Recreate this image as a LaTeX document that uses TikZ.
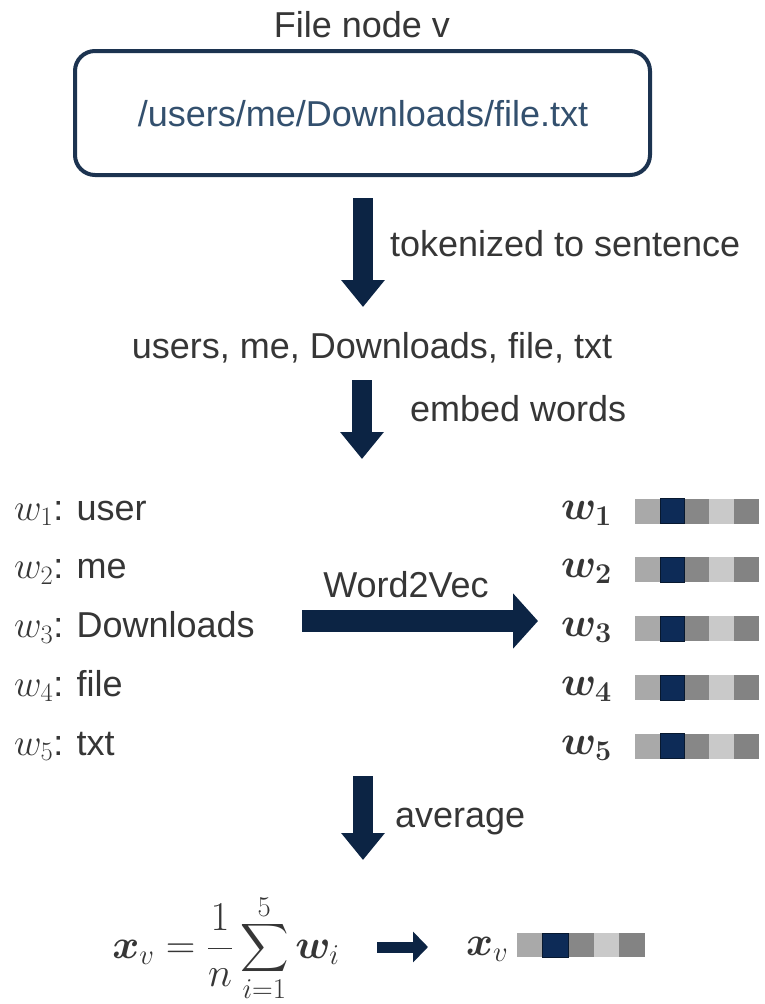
\RequirePackage{fix-cm}
\documentclass[tikz,border=0pt]{standalone}
\usepackage{amsmath}
\usepackage{bm}
\usepackage{fontspec}
\setmainfont{Liberation Sans}
\usetikzlibrary{arrows.meta}

\definecolor{navy}{HTML}{0C2444}
\definecolor{ink}{HTML}{363636}
\definecolor{pathblue}{HTML}{33506E}
\definecolor{boxline}{HTML}{1C3350}
\definecolor{cellA}{HTML}{A9A9A9}
\definecolor{cellN}{HTML}{0D2B57}
\definecolor{cellB}{HTML}{878787}
\definecolor{cellC}{HTML}{C9C9C9}
\definecolor{cellD}{HTML}{838383}

% five-cell embedding strip: left x, centre y, cell width, cell height
\newcommand{\embstrip}[4]{%
  \foreach \cc [count=\k from 0] in {cellA,cellN,cellB,cellC,cellD}{%
    \fill[\cc] ({#1+\k*#3},{#2-#4/2}) rectangle ++(#3,#4);
  }%
  \draw[navy!70!black, line width=0.5pt] ({#1+#3},{#2-#4/2}) rectangle ++(#3,#4);
}
% larger math for the word symbols
\newcommand{\bigmath}[1]{{\fontsize{41}{48}\selectfont$#1$}}
\newcommand{\listmath}[1]{{\fontsize{38}{45}\selectfont$#1$}}
% enlarged summation sign with limits
\newcommand{\bigsum}{\mathop{\vcenter{\hbox{\scalebox{1.35}{$\displaystyle\sum$}}}}\limits}

\begin{document}
\begin{tikzpicture}[x=1pt,y=-1pt,
  every node/.style={inner sep=0pt, outer sep=0pt, text=ink,
    font=\fontsize{36}{43}\selectfont},
  vflow/.style={draw=navy, line width=20pt,
    -{Triangle[length=27pt,width=42pt]}},
  hflow/.style={draw=navy, line width=22pt,
    -{Triangle[length=25pt,width=54pt]}},
  smallflow/.style={draw=navy, line width=11pt,
    -{Triangle[length=15pt,width=30pt]}},
  filebox/.style={draw=boxline, line width=4pt, rounded corners=20pt,
    minimum width=575pt, minimum height=124pt, fill=white},
  lbl/.style={anchor=base west},
]
\useasboundingbox[fill=white] (0,0) rectangle (764,1004);

% file node
\node[anchor=base] (title) at (362,37) {File node v};
\node[filebox] (file) at (362.5,113) {};
\node[anchor=base, text=pathblue] (path) at (363,126) {/users/me/Downloads/file.txt};

% tokenization
\coordinate (t1) at (363,198);
\coordinate (t2) at (363,307);
\draw[vflow] (t1) -- (t2);
\node[lbl] (tok) at (390,256) {tokenized to sentence};

\node[anchor=base] (sent) at (372,358) {users, me, Downloads, file, txt};

% embedding
\coordinate (e1) at (362,380);
\coordinate (e2) at (362,459);
\draw[vflow] (e1) -- (e2);
\node[lbl] (emb) at (410,421) {embed words};

% word list and vectors
\foreach \i/\word in {1/user,2/me,3/Downloads,4/file,5/txt}{
  \pgfmathsetmacro{\yc}{511+58.75*(\i-1)}
  \node[lbl] (word\i) at (14,\yc+9) {\listmath{w_{\i}}: \word};
  \node[lbl] (vec\i) at (561,\yc+8) {\bigmath{\bm{w_{\i}}}};
  \embstrip{635}{\yc}{24.8}{25}
}

\node[anchor=base] (w2v) at (406,597) {Word2Vec};
\coordinate (h1) at (302,621);
\coordinate (h2) at (538,621);
\draw[hflow] (h1) -- (h2);

% averaging
\coordinate (m1) at (363,776);
\coordinate (m2) at (363,860);
\draw[vflow] (m1) -- (m2);
\node[lbl] (avg) at (395,827) {average};

\node[font=\fontsize{41}{48}\selectfont] (formula) at (226,948)
  {$\bm{x}_{v} = \dfrac{1}{n}\bigsum_{i=1}^{5}\bm{w}_{i}$};
\coordinate (s1) at (377,947);
\coordinate (s2) at (428,947);
\draw[smallflow] (s1) -- (s2);
\node[lbl] (xv) at (466,955) {\bigmath{\bm{x}_{v}}};
\embstrip{517}{945}{25.6}{24}
\end{tikzpicture}
\end{document}
